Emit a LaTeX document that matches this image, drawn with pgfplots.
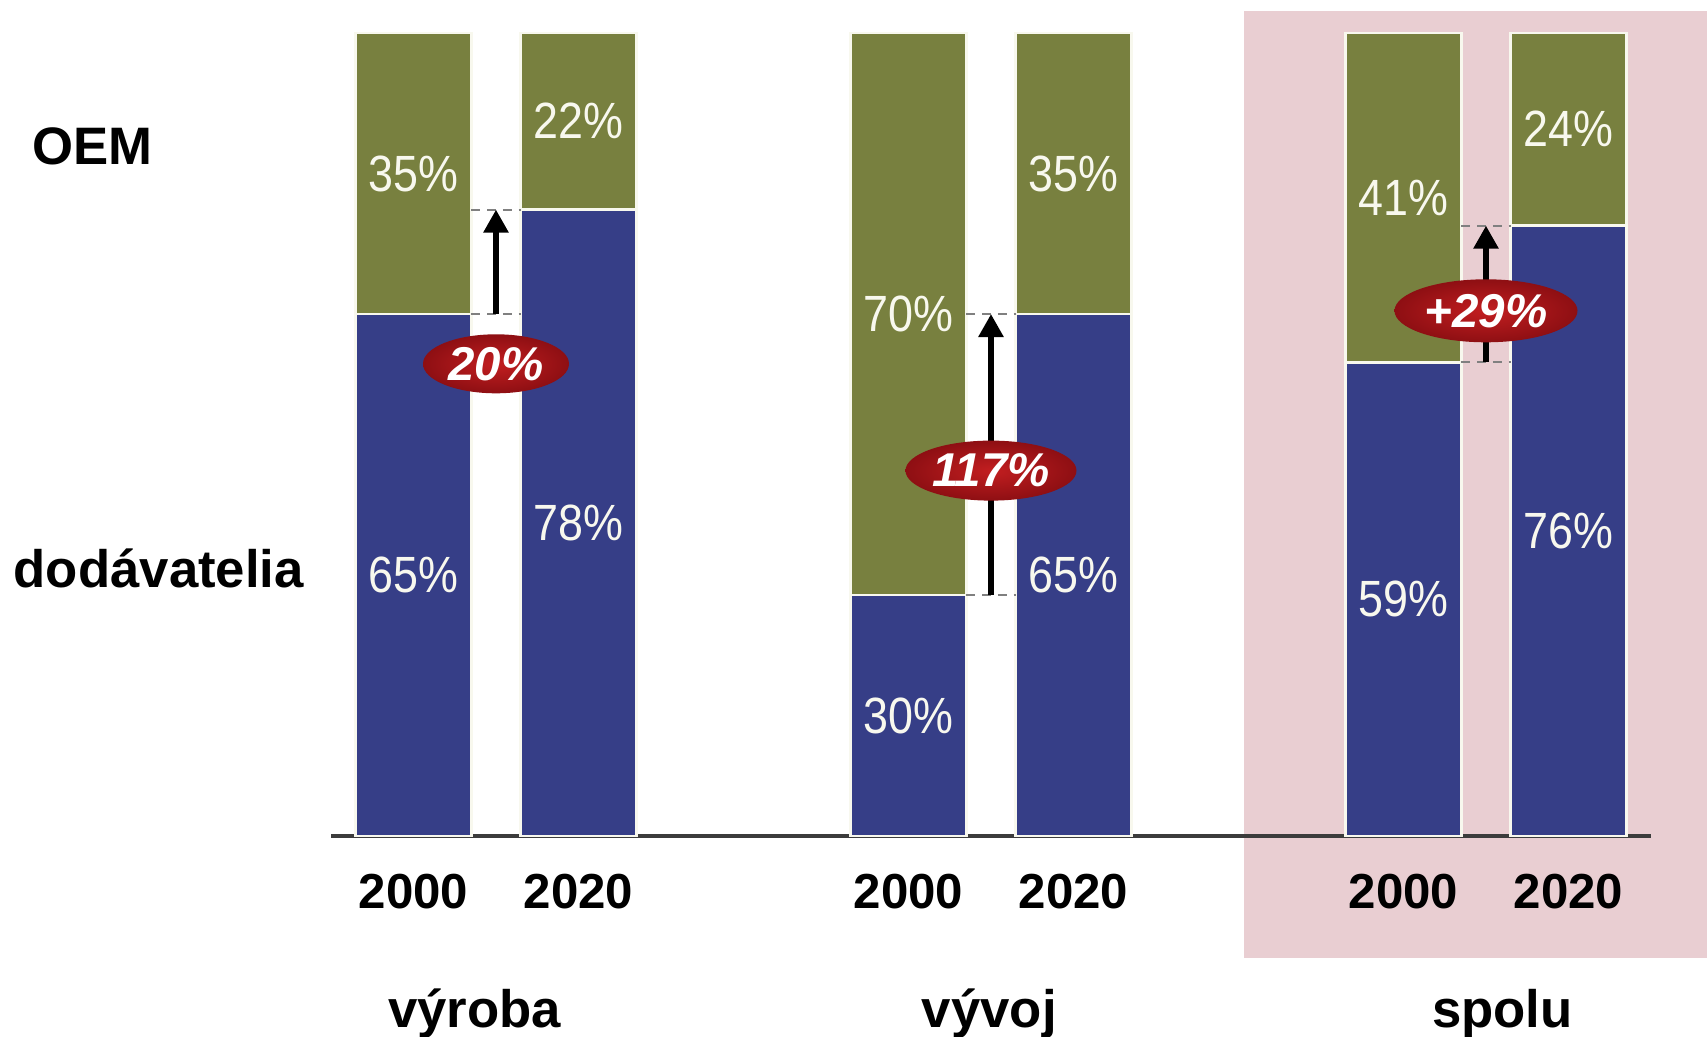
\documentclass[border=0pt]{standalone}
\usepackage{fontspec}
\setmainfont{Liberation Sans}
\usepackage{graphicx}
\usepackage{pgfplots}
\pgfplotsset{compat=1.18}
\usetikzlibrary{arrows.meta,shapes.geometric}
\definecolor{barBlue}{HTML}{363E87}
\definecolor{barGreen}{HTML}{78803F}
\definecolor{bgPink}{HTML}{E9CED2}
\definecolor{tagRedIn}{HTML}{C21E20}
\definecolor{tagRedOut}{HTML}{8E0F13}
\definecolor{axisGray}{HTML}{3C3C3C}
\definecolor{labWhite}{HTML}{F8F8EE}
\newcommand{\val}[1]{\scalebox{0.88}[1]{#1}}
\tikzset{
  vlab/.style={text=labWhite, font=\fontsize{14.5}{14.5}\selectfont, inner sep=0pt},
  glab/.style={font=\bfseries\fontsize{15}{15}\selectfont, inner sep=0pt},
  tag/.style={ellipse, inner color=tagRedIn, outer color=tagRedOut, inner sep=0pt,
    text=white, font=\bfseries\itshape\fontsize{13.5}{13.5}\selectfont},
  gap/.style={gray, line width=0.6pt, dash pattern=on 2.5pt off 2pt},
  rise/.style={line width=1.6pt, -{Triangle[length=0.23cm,width=0.24cm]}},
}
\pgfplotsset{frame/.style={
  at={(0,0)}, anchor=south west,
  x=1.65cm, y=0.0803cm,
  xmin=-0.5, xmax=7.5, ymin=0, ymax=100,
  clip=false}}

\begin{document}
\begin{tikzpicture}
% pink panel behind "spolu" (x 5.03..7.84, y -15.2..102.7 in axis units)
\fill[bgPink] (9.125,-1.221) rectangle (13.76,8.247);

\begin{axis}[frame,
  axis y line=none, axis x line*=bottom,
  x axis line style={-, draw=axisGray, line width=0.9pt},
  xtick={0,1,3,4,6,7},
  xticklabels={2000,2020,2000,2020,2000,2020},
  major tick length=0pt,
  xticklabel style={font=\bfseries\fontsize{14}{14}\selectfont, anchor=center,
    yshift=-0.56cm, inner sep=0pt},
  ybar stacked, bar width=1.16cm,
]
% dodavatelia
\addplot[fill=barBlue, draw=labWhite, line width=0.8pt]
  coordinates {(0,65) (1,78) (3,30) (4,65) (6,59) (7,76)};
% OEM
\addplot[fill=barGreen, draw=labWhite, line width=0.8pt]
  coordinates {(0,35) (1,22) (3,70) (4,35) (6,41) (7,24)};
\end{axis}

\begin{axis}[frame, hide axis]
% segment labels
\node[vlab] at (axis cs:0,32.5) {\val{65\%}};
\node[vlab] at (axis cs:0,82.5) {\val{35\%}};
\node[vlab] at (axis cs:1,39) {\val{78\%}};
\node[vlab] at (axis cs:1,89) {\val{22\%}};
\node[vlab] at (axis cs:3,15) {\val{30\%}};
\node[vlab] at (axis cs:3,65) {\val{70\%}};
\node[vlab] at (axis cs:4,32.5) {\val{65\%}};
\node[vlab] at (axis cs:4,82.5) {\val{35\%}};
\node[vlab] at (axis cs:6,29.5) {\val{59\%}};
\node[vlab] at (axis cs:6,79.5) {\val{41\%}};
\node[vlab] at (axis cs:7,38) {\val{76\%}};
\node[vlab] at (axis cs:7,88) {\val{24\%}};

% growth arrows
\draw[gap] (axis cs:0.35,65) -- (axis cs:0.65,65);
\draw[gap] (axis cs:0.35,78) -- (axis cs:0.65,78);
\draw[rise] (axis cs:0.5,65) -- (axis cs:0.5,78);
\node[tag, minimum width=1.46cm, minimum height=0.59cm] at (axis cs:0.5,58.8) {20\%};

\draw[gap] (axis cs:3.35,30) -- (axis cs:3.65,30);
\draw[gap] (axis cs:3.35,65) -- (axis cs:3.65,65);
\draw[rise] (axis cs:3.5,30) -- (axis cs:3.5,65);
\node[tag, minimum width=1.71cm, minimum height=0.60cm] at (axis cs:3.5,45.5) {117\%};

\draw[gap] (axis cs:6.35,59) -- (axis cs:6.65,59);
\draw[gap] (axis cs:6.35,76) -- (axis cs:6.65,76);
\draw[rise] (axis cs:6.5,59) -- (axis cs:6.5,76);
\node[tag, minimum width=1.83cm, minimum height=0.63cm] at (axis cs:6.5,65.4) {+29\%};

% row and group labels
\node[glab, anchor=base west] at (axis cs:-2.312,83.56) {OEM};
\node[glab, anchor=base west] at (axis cs:-2.427,31.0) {dodávatelia};
\node[glab, anchor=base] at (axis cs:0.37,-23.8) {výroba};
\node[glab, anchor=base] at (axis cs:3.49,-23.8) {vývoj};
\node[glab, anchor=base] at (axis cs:6.6,-23.8) {spolu};
\end{axis}
\pgfresetboundingbox
\path[use as bounding box] (-3.31,-2.00) rectangle (13.76,8.36);
\end{tikzpicture}
\end{document}
